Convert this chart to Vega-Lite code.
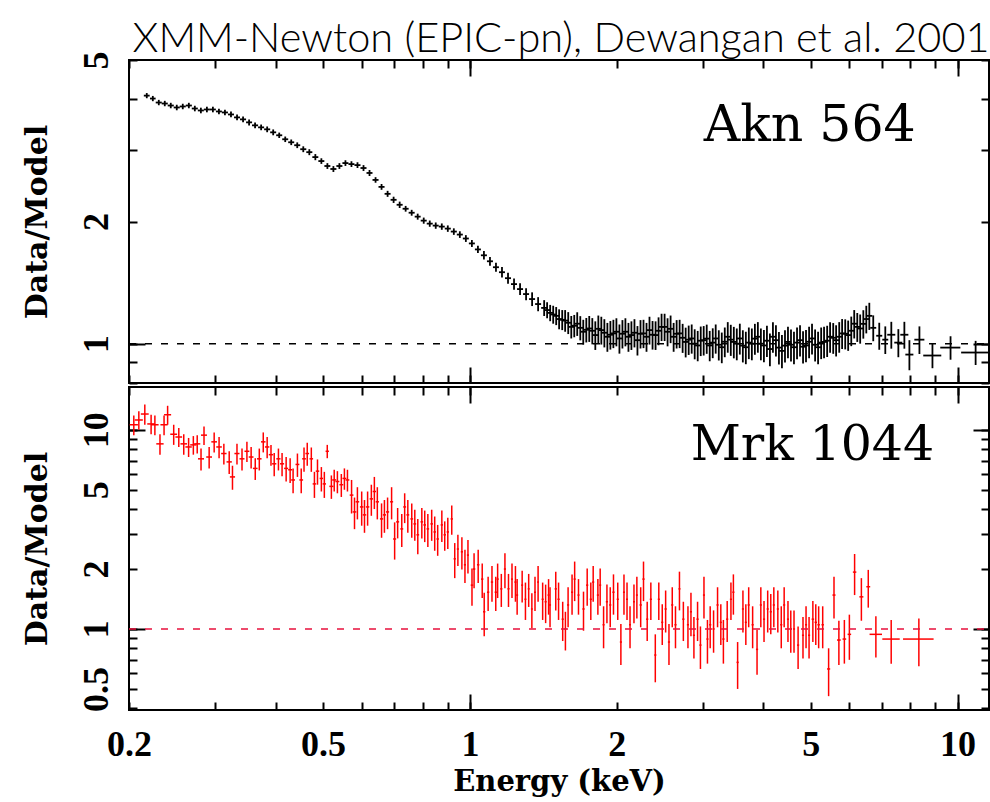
{
"$schema": "https://vega.github.io/schema/vega-lite/v6.json",
"background": "white",
"padding": {"left": 20, "top": 18, "right": 0, "bottom": 0},
"spacing": 0,
"title": {"text": "XMM-Newton (EPIC-pn), Dewangan et al. 2001", "font": "Lato", "fontWeight": 300, "fontSize": 41.5, "anchor": "middle", "baseline": "alphabetic", "offset": -43, "dx": 55, "color": "black"},
"config": {
 "view": {"stroke": "black", "strokeWidth": 2},
 "axis": {"domain": false, "grid": false, "tickColor": "black", "tickWidth": 2, "labelFont": "Liberation Serif", "labelFontWeight": "bold", "labelFontSize": 36, "labelColor": "black", "titleFont": "DejaVu Serif", "titleFontWeight": "bold", "titleColor": "black"}
},
"datasets": {
 "akn": [
{"e":0.2175,"de":0.003,"r":4.085,"dr":0.06},{"e":0.2238,"de":0.003,"r":4.018,"dr":0.06},{"e":0.2302,"de":0.0033,"r":3.928,"dr":0.06},{"e":0.2368,"de":0.0034,"r":3.906,"dr":0.06},{"e":0.2436,"de":0.0035,"r":3.862,"dr":0.06},{"e":0.2506,"de":0.0036,"r":3.819,"dr":0.06},{"e":0.2578,"de":0.0037,"r":3.841,"dr":0.06},{"e":0.2653,"de":0.0038,"r":3.862,"dr":0.06},{"e":0.2729,"de":0.0039,"r":3.797,"dr":0.06},{"e":0.2808,"de":0.004,"r":3.755,"dr":0.06},{"e":0.2889,"de":0.0041,"r":3.776,"dr":0.06},{"e":0.2972,"de":0.0042,"r":3.776,"dr":0.06},{"e":0.3058,"de":0.0043,"r":3.734,"dr":0.06},{"e":0.3146,"de":0.0045,"r":3.713,"dr":0.06},{"e":0.3237,"de":0.0046,"r":3.671,"dr":0.06},{"e":0.3331,"de":0.0047,"r":3.61,"dr":0.06},{"e":0.3427,"de":0.0049,"r":3.57,"dr":0.06},{"e":0.3526,"de":0.005,"r":3.51,"dr":0.06},{"e":0.3627,"de":0.0052,"r":3.451,"dr":0.055},{"e":0.3732,"de":0.0053,"r":3.412,"dr":0.055},{"e":0.384,"de":0.0055,"r":3.374,"dr":0.055},{"e":0.3951,"de":0.0056,"r":3.317,"dr":0.055},{"e":0.4065,"de":0.0058,"r":3.262,"dr":0.05},{"e":0.4182,"de":0.0059,"r":3.189,"dr":0.05},{"e":0.4302,"de":0.0061,"r":3.135,"dr":0.05},{"e":0.4426,"de":0.0063,"r":3.083,"dr":0.05},{"e":0.4554,"de":0.0065,"r":3.014,"dr":0.05},{"e":0.4686,"de":0.0067,"r":2.964,"dr":0.05},{"e":0.4821,"de":0.0068,"r":2.882,"dr":0.05},{"e":0.496,"de":0.007,"r":2.818,"dr":0.045},{"e":0.5103,"de":0.0072,"r":2.74,"dr":0.045},{"e":0.525,"de":0.0075,"r":2.694,"dr":0.045},{"e":0.5401,"de":0.0077,"r":2.74,"dr":0.045},{"e":0.5557,"de":0.0079,"r":2.786,"dr":0.045},{"e":0.5717,"de":0.0081,"r":2.77,"dr":0.045},{"e":0.5882,"de":0.0084,"r":2.754,"dr":0.045},{"e":0.6052,"de":0.0086,"r":2.709,"dr":0.045},{"e":0.6226,"de":0.0088,"r":2.634,"dr":0.045},{"e":0.6406,"de":0.0091,"r":2.532,"dr":0.04},{"e":0.659,"de":0.0094,"r":2.434,"dr":0.04},{"e":0.6781,"de":0.0096,"r":2.34,"dr":0.04},{"e":0.6976,"de":0.0099,"r":2.262,"dr":0.04},{"e":0.7178,"de":0.0102,"r":2.199,"dr":0.04},{"e":0.7384,"de":0.0105,"r":2.15,"dr":0.035},{"e":0.7597,"de":0.0108,"r":2.102,"dr":0.035},{"e":0.7816,"de":0.011,"r":2.056,"dr":0.035},{"e":0.8042,"de":0.0114,"r":2.01,"dr":0.035},{"e":0.8274,"de":0.0117,"r":1.976,"dr":0.035},{"e":0.8511,"de":0.012,"r":1.954,"dr":0.035},{"e":0.8758,"de":0.0124,"r":1.943,"dr":0.035},{"e":0.901,"de":0.0128,"r":1.921,"dr":0.035},{"e":0.927,"de":0.0132,"r":1.889,"dr":0.035},{"e":0.9537,"de":0.0135,"r":1.857,"dr":0.035},{"e":0.9812,"de":0.0139,"r":1.816,"dr":0.035},{"e":1.0095,"de":0.0143,"r":1.766,"dr":0.035},{"e":1.0387,"de":0.0147,"r":1.707,"dr":0.035},{"e":1.0686,"de":0.0152,"r":1.651,"dr":0.04},{"e":1.0995,"de":0.0156,"r":1.596,"dr":0.04},{"e":1.1311,"de":0.016,"r":1.543,"dr":0.04},{"e":1.1637,"de":0.0165,"r":1.5,"dr":0.045},{"e":1.1973,"de":0.017,"r":1.45,"dr":0.045},{"e":1.2318,"de":0.0175,"r":1.402,"dr":0.045},{"e":1.2674,"de":0.018,"r":1.363,"dr":0.045},{"e":1.3039,"de":0.0185,"r":1.325,"dr":0.045},{"e":1.3415,"de":0.019,"r":1.288,"dr":0.05},{"e":1.3802,"de":0.0196,"r":1.252,"dr":0.05},{"e":1.4201,"de":0.02,"r":1.225,"dr":0.055},{"e":1.461,"de":0.021,"r":1.191,"dr":0.055},{"e":1.5031,"de":0.021,"r":1.171,"dr":0.06},{"e":1.5465,"de":0.022,"r":1.145,"dr":0.065},{"e":1.591,"de":0.023,"r":1.126,"dr":0.07},{"e":1.6369,"de":0.023,"r":1.107,"dr":0.07},{"e":1.6842,"de":0.024,"r":1.094,"dr":0.075},{"e":1.7327,"de":0.025,"r":1.082,"dr":0.075},{"e":1.7826,"de":0.025,"r":1.076,"dr":0.08},{"e":1.834,"de":0.026,"r":1.088,"dr":0.085},{"e":1.8869,"de":0.027,"r":1.064,"dr":0.085},{"e":1.9414,"de":0.028,"r":1.052,"dr":0.085},{"e":1.9973,"de":0.028,"r":1.07,"dr":0.085},{"e":2.055,"de":0.029,"r":1.058,"dr":0.085},{"e":2.1142,"de":0.03,"r":1.04,"dr":0.085},{"e":2.175,"de":0.031,"r":1.064,"dr":0.085},{"e":2.238,"de":0.032,"r":1.058,"dr":0.085},{"e":2.3024,"de":0.033,"r":1.04,"dr":0.085},{"e":2.369,"de":0.034,"r":1.052,"dr":0.085},{"e":2.4372,"de":0.035,"r":1.076,"dr":0.085},{"e":2.5076,"de":0.036,"r":1.1,"dr":0.085},{"e":2.5797,"de":0.037,"r":1.088,"dr":0.085},{"e":2.6543,"de":0.038,"r":1.058,"dr":0.085},{"e":2.7306,"de":0.039,"r":1.034,"dr":0.085},{"e":2.8097,"de":0.04,"r":1.023,"dr":0.085},{"e":2.8906,"de":0.041,"r":1.0,"dr":0.085},{"e":2.9742,"de":0.042,"r":1.017,"dr":0.085},{"e":3.0596,"de":0.043,"r":1.029,"dr":0.085},{"e":3.1477,"de":0.045,"r":1.006,"dr":0.085},{"e":3.2388,"de":0.046,"r":0.994,"dr":0.085},{"e":3.3318,"de":0.047,"r":1.011,"dr":0.085},{"e":3.4277,"de":0.049,"r":1.023,"dr":0.09},{"e":3.5262,"de":0.05,"r":1.0,"dr":0.09},{"e":3.6283,"de":0.052,"r":0.989,"dr":0.09},{"e":3.7325,"de":0.053,"r":1.006,"dr":0.09},{"e":3.8406,"de":0.055,"r":1.029,"dr":0.09},{"e":3.951,"de":0.056,"r":1.0,"dr":0.09},{"e":4.0654,"de":0.058,"r":1.017,"dr":0.09},{"e":4.1822,"de":0.059,"r":1.04,"dr":0.09},{"e":4.3025,"de":0.061,"r":0.978,"dr":0.09},{"e":4.4272,"de":0.063,"r":0.989,"dr":0.09},{"e":4.5545,"de":0.065,"r":0.994,"dr":0.09},{"e":4.6864,"de":0.067,"r":1.006,"dr":0.09},{"e":4.8213,"de":0.068,"r":0.983,"dr":0.09},{"e":4.9609,"de":0.07,"r":1.011,"dr":0.09},{"e":5.1036,"de":0.072,"r":0.994,"dr":0.09},{"e":5.2517,"de":0.075,"r":1.006,"dr":0.09},{"e":5.4027,"de":0.077,"r":1.017,"dr":0.09},{"e":5.5594,"de":0.079,"r":1.034,"dr":0.09},{"e":5.7195,"de":0.081,"r":1.04,"dr":0.09},{"e":5.8837,"de":0.084,"r":1.058,"dr":0.09},{"e":6.0539,"de":0.086,"r":1.076,"dr":0.09},{"e":6.228,"de":0.088,"r":1.1,"dr":0.09},{"e":6.4083,"de":0.091,"r":1.119,"dr":0.09},{"e":6.5924,"de":0.094,"r":1.171,"dr":0.09},{"e":6.716,"de":0.095,"r":1.094,"dr":0.08},{"e":6.909,"de":0.098,"r":1.046,"dr":0.08},{"e":7.109,"de":0.1,"r":1.023,"dr":0.08},{"e":7.314,"de":0.139,"r":1.052,"dr":0.08},{"e":7.561,"de":0.144,"r":1.006,"dr":0.08},{"e":7.779,"de":0.148,"r":1.052,"dr":0.08},{"e":7.966,"de":0.151,"r":0.94,"dr":0.08},{"e":8.352,"de":0.198,"r":1.023,"dr":0.08},{"e":8.882,"de":0.378,"r":0.935,"dr":0.065},{"e":9.674,"de":0.459,"r":0.978,"dr":0.065},{"e":10.89,"de":0.72,"r":0.951,"dr":0.065},
{"e":1.44,"de":0.02,"r":1.21,"dr":0.055},{"e":1.482,"de":0.021,"r":1.18,"dr":0.06},{"e":1.524,"de":0.022,"r":1.15,"dr":0.065},{"e":1.568,"de":0.022,"r":1.14,"dr":0.07},{"e":1.614,"de":0.023,"r":1.1,"dr":0.07},{"e":1.66,"de":0.024,"r":1.12,"dr":0.075},{"e":1.708,"de":0.024,"r":1.07,"dr":0.075},{"e":1.757,"de":0.025,"r":1.09,"dr":0.08},{"e":1.808,"de":0.026,"r":1.05,"dr":0.085},{"e":1.86,"de":0.026,"r":1.08,"dr":0.085},{"e":1.914,"de":0.027,"r":1.04,"dr":0.085},{"e":1.969,"de":0.028,"r":1.06,"dr":0.085},{"e":2.026,"de":0.029,"r":1.03,"dr":0.085},{"e":2.084,"de":0.03,"r":1.07,"dr":0.085},{"e":2.144,"de":0.03,"r":1.05,"dr":0.085},{"e":2.206,"de":0.031,"r":1.02,"dr":0.085},{"e":2.27,"de":0.032,"r":1.06,"dr":0.085},{"e":2.335,"de":0.033,"r":1.08,"dr":0.085},{"e":2.403,"de":0.034,"r":1.05,"dr":0.085},{"e":2.472,"de":0.035,"r":1.1,"dr":0.085},{"e":2.543,"de":0.036,"r":1.07,"dr":0.085},{"e":2.617,"de":0.037,"r":1.04,"dr":0.085},{"e":2.692,"de":0.038,"r":1.06,"dr":0.085},{"e":2.77,"de":0.039,"r":1.01,"dr":0.085},{"e":2.85,"de":0.04,"r":1.03,"dr":0.085},{"e":2.932,"de":0.042,"r":0.99,"dr":0.085},{"e":3.016,"de":0.043,"r":1.02,"dr":0.085},{"e":3.103,"de":0.044,"r":0.99,"dr":0.085},{"e":3.192,"de":0.045,"r":1.03,"dr":0.085},{"e":3.285,"de":0.047,"r":0.98,"dr":0.085},{"e":3.379,"de":0.048,"r":1.04,"dr":0.09},{"e":3.477,"de":0.049,"r":1.01,"dr":0.09},{"e":3.577,"de":0.051,"r":1.03,"dr":0.09},{"e":3.68,"de":0.052,"r":0.98,"dr":0.09},{"e":3.786,"de":0.054,"r":1.0,"dr":0.09},{"e":3.895,"de":0.055,"r":1.04,"dr":0.09},{"e":4.008,"de":0.057,"r":0.99,"dr":0.09},{"e":4.123,"de":0.059,"r":0.97,"dr":0.09},{"e":4.242,"de":0.06,"r":1.02,"dr":0.09},{"e":4.364,"de":0.062,"r":0.96,"dr":0.09},{"e":4.49,"de":0.064,"r":1.01,"dr":0.09},{"e":4.619,"de":0.066,"r":0.98,"dr":0.09},{"e":4.753,"de":0.067,"r":1.02,"dr":0.09},{"e":4.889,"de":0.069,"r":0.99,"dr":0.09},{"e":5.03,"de":0.071,"r":1.03,"dr":0.09},{"e":5.176,"de":0.073,"r":0.98,"dr":0.09},{"e":5.324,"de":0.076,"r":1.01,"dr":0.09},{"e":5.478,"de":0.078,"r":1.04,"dr":0.09},{"e":5.636,"de":0.08,"r":1.02,"dr":0.09},{"e":5.798,"de":0.082,"r":1.06,"dr":0.09},{"e":5.966,"de":0.085,"r":1.05,"dr":0.09},{"e":6.139,"de":0.087,"r":1.12,"dr":0.09},{"e":6.314,"de":0.09,"r":1.09,"dr":0.09},{"e":6.499,"de":0.092,"r":1.15,"dr":0.09}
 ],
 "mrk": [
{"e":0.2046,"de":0.004,"r":10.6,"dr":1.2},{"e":0.2095,"de":0.004,"r":11.2,"dr":1.2},{"e":0.2155,"de":0.004,"r":12.0,"dr":1.4},{"e":0.222,"de":0.004,"r":10.7,"dr":1.2},{"e":0.226,"de":0.004,"r":10.6,"dr":1.2},{"e":0.2315,"de":0.004,"r":8.5,"dr":1.0},{"e":0.236,"de":0.004,"r":10.6,"dr":1.2},{"e":0.24,"de":0.004,"r":11.9,"dr":1.3},{"e":0.247,"de":0.004,"r":9.5,"dr":1.1},{"e":0.253,"de":0.004,"r":9.2,"dr":1.0},{"e":0.259,"de":0.004,"r":8.5,"dr":1.0},{"e":0.265,"de":0.004,"r":8.2,"dr":0.9},{"e":0.271,"de":0.004,"r":8.4,"dr":0.9},{"e":0.276,"de":0.004,"r":8.5,"dr":0.9},{"e":0.281,"de":0.004,"r":7.15,"dr":0.9},{"e":0.285,"de":0.004,"r":9.4,"dr":1.0},{"e":0.292,"de":0.004,"r":7.3,"dr":0.9},{"e":0.299,"de":0.004,"r":8.7,"dr":1.0},{"e":0.306,"de":0.004,"r":8.2,"dr":1.0},{"e":0.313,"de":0.004,"r":7.6,"dr":0.9},{"e":0.321,"de":0.004,"r":6.9,"dr":0.9},{"e":0.326,"de":0.004,"r":5.8,"dr":0.8},{"e":0.333,"de":0.004,"r":7.6,"dr":0.9},{"e":0.341,"de":0.004,"r":7.15,"dr":0.9},{"e":0.349,"de":0.004,"r":7.8,"dr":0.9},{"e":0.356,"de":0.004,"r":7.3,"dr":0.9},{"e":0.363,"de":0.004,"r":6.4,"dr":0.8},{"e":0.37,"de":0.004,"r":7.15,"dr":0.9},{"e":0.377,"de":0.004,"r":8.7,"dr":1.0},{"e":0.384,"de":0.004,"r":8.2,"dr":1.0},{"e":0.391,"de":0.004,"r":7.5,"dr":0.9},{"e":0.397,"de":0.004,"r":6.75,"dr":0.9},{"e":0.405,"de":0.004,"r":7.15,"dr":0.9},{"e":0.412,"de":0.004,"r":6.75,"dr":0.9},{"e":0.42,"de":0.004,"r":6.4,"dr":0.9},{"e":0.428,"de":0.004,"r":6.3,"dr":0.9},{"e":0.434,"de":0.004,"r":5.6,"dr":0.8},{"e":0.443,"de":0.004,"r":6.7,"dr":0.9},{"e":0.451,"de":0.004,"r":5.6,"dr":0.8},{"e":0.457,"de":0.004,"r":7.15,"dr":1.0},{"e":0.464,"de":0.004,"r":7.6,"dr":1.0},{"e":0.473,"de":0.004,"r":7.15,"dr":1.0},{"e":0.48,"de":0.004,"r":5.35,"dr":0.8},{"e":0.487,"de":0.004,"r":6.2,"dr":0.9},{"e":0.496,"de":0.004,"r":5.7,"dr":0.8},{"e":0.503,"de":0.004,"r":5.35,"dr":0.8},{"e":0.51,"de":0.004,"r":7.8,"dr":0.6},{"e":0.52,"de":0.005,"r":5.2,"dr":0.7},{"e":0.527,"de":0.005,"r":5.6,"dr":0.7},{"e":0.535,"de":0.005,"r":5.5,"dr":0.7},{"e":0.545,"de":0.005,"r":5.3,"dr":0.7},{"e":0.553,"de":0.005,"r":5.7,"dr":0.7},{"e":0.561,"de":0.005,"r":5.6,"dr":0.7},{"e":0.572,"de":0.005,"r":4.7,"dr":0.9},{"e":0.58,"de":0.005,"r":3.87,"dr":0.7},{"e":0.588,"de":0.005,"r":4.35,"dr":0.8},{"e":0.6,"de":0.005,"r":4.1,"dr":0.8},{"e":0.608,"de":0.005,"r":3.74,"dr":0.7},{"e":0.617,"de":0.005,"r":4.1,"dr":0.8},{"e":0.628,"de":0.005,"r":4.5,"dr":0.8},{"e":0.637,"de":0.005,"r":4.9,"dr":0.9},{"e":0.646,"de":0.005,"r":4.35,"dr":0.8},{"e":0.659,"de":0.005,"r":3.57,"dr":0.7},{"e":0.668,"de":0.005,"r":3.74,"dr":0.7},{"e":0.678,"de":0.005,"r":3.87,"dr":0.7},{"e":0.691,"de":0.005,"r":4.35,"dr":0.8},{"e":0.701,"de":0.005,"r":2.83,"dr":0.6},{"e":0.711,"de":0.005,"r":3.45,"dr":0.6},{"e":0.725,"de":0.005,"r":3.18,"dr":0.6},{"e":0.735,"de":0.005,"r":4.1,"dr":0.7},{"e":0.746,"de":0.005,"r":3.74,"dr":0.7},{"e":0.76,"de":0.005,"r":3.57,"dr":0.7},{"e":0.771,"de":0.005,"r":3.37,"dr":0.6},{"e":0.782,"de":0.005,"r":2.97,"dr":0.6},{"e":0.797,"de":0.005,"r":3.45,"dr":0.6},{"e":0.808,"de":0.005,"r":3.33,"dr":0.6},{"e":0.82,"de":0.005,"r":3.18,"dr":0.6},{"e":0.835,"de":0.005,"r":3.37,"dr":0.6},{"e":0.847,"de":0.005,"r":3.07,"dr":0.6},{"e":0.859,"de":0.005,"r":2.83,"dr":0.5},{"e":0.876,"de":0.005,"r":3.33,"dr":0.6},{"e":0.888,"de":0.005,"r":2.97,"dr":0.5},{"e":0.901,"de":0.005,"r":3.07,"dr":0.55},{"e":0.918,"de":0.005,"r":3.57,"dr":0.6},{"e":0.931,"de":0.005,"r":2.25,"dr":0.45},{"e":0.945,"de":0.005,"r":2.52,"dr":0.45},{"e":0.963,"de":0.005,"r":2.44,"dr":0.45},{"e":0.977,"de":0.005,"r":2.1,"dr":0.4},{"e":0.991,"de":0.005,"r":2.35,"dr":0.45},{"e":1.01,"de":0.006,"r":1.66,"dr":0.35},{"e":1.02,"de":0.006,"r":2.0,"dr":0.4},{"e":1.04,"de":0.006,"r":2.1,"dr":0.4},{"e":1.06,"de":0.006,"r":1.78,"dr":0.35},{"e":1.07,"de":0.006,"r":1.22,"dr":0.3},{"e":1.09,"de":0.006,"r":1.53,"dr":0.3},{"e":1.11,"de":0.006,"r":1.72,"dr":0.35},{"e":1.13,"de":0.006,"r":1.53,"dr":0.3},{"e":1.14,"de":0.006,"r":1.78,"dr":0.35},{"e":1.16,"de":0.006,"r":1.59,"dr":0.3},{"e":1.18,"de":0.006,"r":2.0,"dr":0.4},{"e":1.2,"de":0.006,"r":1.59,"dr":0.3},{"e":1.22,"de":0.006,"r":1.78,"dr":0.35},{"e":1.24,"de":0.006,"r":1.72,"dr":0.35},{"e":1.25,"de":0.006,"r":1.48,"dr":0.3},{"e":1.28,"de":0.006,"r":1.66,"dr":0.3},{"e":1.3,"de":0.006,"r":1.41,"dr":0.3},{"e":1.32,"de":0.006,"r":1.59,"dr":0.3},{"e":1.34,"de":0.006,"r":1.26,"dr":0.25},{"e":1.36,"de":0.006,"r":1.53,"dr":0.3},{"e":1.38,"de":0.006,"r":1.72,"dr":0.35},{"e":1.41,"de":0.007,"r":1.41,"dr":0.3},{"e":1.43,"de":0.007,"r":1.37,"dr":0.3},{"e":1.45,"de":0.007,"r":1.48,"dr":0.3},{"e":1.46,"de":0.007,"r":1.32,"dr":0.3},{"e":1.5,"de":0.008,"r":1.59,"dr":0.35},{"e":1.52,"de":0.008,"r":1.41,"dr":0.3},{"e":1.55,"de":0.008,"r":1.12,"dr":0.25},{"e":1.57,"de":0.008,"r":1.0,"dr":0.22},{"e":1.59,"de":0.008,"r":1.32,"dr":0.3},{"e":1.62,"de":0.008,"r":1.53,"dr":0.35},{"e":1.64,"de":0.008,"r":1.78,"dr":0.4},{"e":1.67,"de":0.008,"r":1.48,"dr":0.3},{"e":1.71,"de":0.009,"r":1.26,"dr":0.28},{"e":1.74,"de":0.009,"r":1.66,"dr":0.35},{"e":1.77,"de":0.009,"r":1.41,"dr":0.3},{"e":1.79,"de":0.009,"r":1.72,"dr":0.35},{"e":1.83,"de":0.009,"r":1.48,"dr":0.3},{"e":1.85,"de":0.009,"r":1.66,"dr":0.35},{"e":1.88,"de":0.009,"r":1.05,"dr":0.25},{"e":1.91,"de":0.01,"r":1.37,"dr":0.3},{"e":1.94,"de":0.01,"r":1.32,"dr":0.3},{"e":1.97,"de":0.01,"r":1.53,"dr":0.35},{"e":2.01,"de":0.01,"r":1.41,"dr":0.3},{"e":2.04,"de":0.01,"r":0.86,"dr":0.2},{"e":2.07,"de":0.01,"r":1.53,"dr":0.35},{"e":2.1,"de":0.01,"r":1.41,"dr":0.3},{"e":2.13,"de":0.01,"r":1.05,"dr":0.25},{"e":2.17,"de":0.01,"r":1.37,"dr":0.3},{"e":2.2,"de":0.01,"r":1.48,"dr":0.35},{"e":2.24,"de":0.012,"r":1.32,"dr":0.3},{"e":2.27,"de":0.012,"r":1.78,"dr":0.4},{"e":2.31,"de":0.012,"r":1.12,"dr":0.25},{"e":2.35,"de":0.012,"r":1.41,"dr":0.3},{"e":2.4,"de":0.012,"r":0.74,"dr":0.2},{"e":2.44,"de":0.012,"r":1.41,"dr":0.3},{"e":2.48,"de":0.012,"r":1.08,"dr":0.25},{"e":2.52,"de":0.013,"r":1.26,"dr":0.3},{"e":2.56,"de":0.013,"r":0.86,"dr":0.2},{"e":2.6,"de":0.013,"r":1.32,"dr":0.3},{"e":2.64,"de":0.013,"r":1.05,"dr":0.25},{"e":2.69,"de":0.013,"r":1.59,"dr":0.35},{"e":2.74,"de":0.014,"r":1.12,"dr":0.25},{"e":2.8,"de":0.014,"r":1.05,"dr":0.25},{"e":2.84,"de":0.014,"r":1.22,"dr":0.3},{"e":2.88,"de":0.014,"r":0.93,"dr":0.22},{"e":2.93,"de":0.015,"r":1.12,"dr":0.25},{"e":2.97,"de":0.015,"r":0.83,"dr":0.2},{"e":3.02,"de":0.015,"r":1.48,"dr":0.35},{"e":3.07,"de":0.015,"r":0.89,"dr":0.22},{"e":3.11,"de":0.016,"r":1.05,"dr":0.25},{"e":3.16,"de":0.016,"r":1.0,"dr":0.24},{"e":3.22,"de":0.016,"r":1.32,"dr":0.3},{"e":3.27,"de":0.016,"r":1.08,"dr":0.25},{"e":3.31,"de":0.017,"r":0.89,"dr":0.22},{"e":3.37,"de":0.017,"r":1.12,"dr":0.26},{"e":3.43,"de":0.017,"r":1.41,"dr":0.3},{"e":3.47,"de":0.017,"r":1.53,"dr":0.35},{"e":3.54,"de":0.018,"r":0.68,"dr":0.18},{"e":3.63,"de":0.018,"r":1.26,"dr":0.3},{"e":3.68,"de":0.018,"r":1.08,"dr":0.25},{"e":3.73,"de":0.019,"r":1.32,"dr":0.3},{"e":3.8,"de":0.019,"r":1.05,"dr":0.25},{"e":3.88,"de":0.02,"r":0.79,"dr":0.2},{"e":3.95,"de":0.02,"r":1.32,"dr":0.3},{"e":4.01,"de":0.02,"r":1.12,"dr":0.26},{"e":4.08,"de":0.02,"r":1.26,"dr":0.3},{"e":4.14,"de":0.021,"r":1.22,"dr":0.28},{"e":4.2,"de":0.021,"r":1.32,"dr":0.3},{"e":4.28,"de":0.021,"r":1.26,"dr":0.3},{"e":4.35,"de":0.022,"r":1.05,"dr":0.25},{"e":4.41,"de":0.022,"r":1.32,"dr":0.3},{"e":4.49,"de":0.022,"r":1.12,"dr":0.26},{"e":4.55,"de":0.023,"r":1.0,"dr":0.24},{"e":4.62,"de":0.023,"r":1.0,"dr":0.24},{"e":4.71,"de":0.024,"r":0.83,"dr":0.2},{"e":4.82,"de":0.024,"r":0.93,"dr":0.22},{"e":4.89,"de":0.024,"r":1.05,"dr":0.25},{"e":4.96,"de":0.025,"r":0.93,"dr":0.22},{"e":5.05,"de":0.03,"r":1.12,"dr":0.26},{"e":5.12,"de":0.03,"r":1.08,"dr":0.25},{"e":5.19,"de":0.03,"r":1.05,"dr":0.25},{"e":5.29,"de":0.03,"r":1.05,"dr":0.25},{"e":5.44,"de":0.04,"r":0.63,"dr":0.17},{"e":5.58,"de":0.04,"r":1.48,"dr":0.35},{"e":5.71,"de":0.05,"r":0.88,"dr":0.22},{"e":5.86,"de":0.05,"r":0.89,"dr":0.22},{"e":6.0,"de":0.05,"r":0.94,"dr":0.24},{"e":6.15,"de":0.05,"r":1.93,"dr":0.45},{"e":6.35,"de":0.06,"r":1.45,"dr":0.35},{"e":6.56,"de":0.06,"r":1.63,"dr":0.35},{"e":6.8,"de":0.2,"r":0.94,"dr":0.22},{"e":7.31,"de":0.3,"r":0.89,"dr":0.22},{"e":8.33,"de":0.6,"r":0.89,"dr":0.24}
 ],
 "unity": [{"r": 1, "e0": 0.2, "e1": 11.6}]
},
"vconcat": [
 {
  "width": 860, "height": 323,
  "resolve": {"axis": {"x": "independent", "y": "independent"}},
  "layer": [
   {"data": {"name": "akn"},
    "mark": {"type": "errorbar", "color": "black", "thickness": 1.8},
    "encoding": {
     "x": {"field": "e", "type": "quantitative", "scale": {"type": "log", "domain": [0.2, 11.6], "nice": false}, "axis": {"orient": "bottom", "values": [0.2,0.3,0.4,0.5,0.6,0.7,0.8,0.9,1,2,3,4,5,6,7,8,9,10], "tickSize": -8, "labels": false, "title": null}},
     "y": {"field": "r", "type": "quantitative", "scale": {"type": "log", "domain": [0.8, 5], "nice": false}, "axis": {"orient": "left", "values": [0.8,0.9,1,2,3,4,5], "tickSize": -8, "labelAngle": -90, "labelAlign": "center", "labelBaseline": "alphabetic", "labelExpr": "(datum.value==1||datum.value==2||datum.value==5)?format(datum.value,'~g'):''", "labelPadding": 30, "labelOverlap": false, "labelFlush": false, "title": "Data/Model", "titleFontSize": 30, "titlePadding": 26}},
     "yError": {"field": "dr"}
    }},
   {"data": {"name": "akn"},
    "mark": {"type": "errorbar", "color": "black", "thickness": 1.8},
    "encoding": {
     "x": {"field": "e", "type": "quantitative", "scale": {"type": "log", "domain": [0.2, 11.6], "nice": false}, "axis": {"orient": "top", "values": [0.2,0.3,0.4,0.5,0.6,0.7,0.8,0.9,1,2,3,4,5,6,7,8,9,10], "tickSize": -8, "labels": false, "title": null}},
     "xError": {"field": "de"},
     "y": {"field": "r", "type": "quantitative", "scale": {"type": "log", "domain": [0.8, 5], "nice": false}, "axis": {"orient": "right", "values": [0.8,0.9,1,2,3,4,5], "tickSize": -8, "labels": false, "title": null}}
    }},
   {"data": {"values": [{"label": "Akn 564"}]},
    "mark": {"type": "text", "font": "DejaVu Serif", "fontSize": 50.5, "align": "left", "baseline": "alphabetic", "color": "black"},
    "encoding": {
     "x": {"datum": 3.016, "type": "quantitative", "scale": {"type": "log", "domain": [0.2, 11.6], "nice": false}, "axis": {"orient": "bottom", "values": [1, 10], "tickSize": -16, "labels": false, "title": null}},
     "y": {"datum": 3.154, "type": "quantitative", "scale": {"type": "log", "domain": [0.8, 5], "nice": false}, "axis": {"orient": "left", "values": [1], "tickSize": -16, "labels": false, "title": null}},
     "text": {"field": "label"}
    }},
   {"data": {"name": "unity"},
    "mark": {"type": "rule", "color": "black", "strokeWidth": 1.5, "strokeDash": [7, 9]},
    "encoding": {
     "x": {"field": "e0", "type": "quantitative", "scale": {"type": "log", "domain": [0.2, 11.6], "nice": false}, "axis": {"orient": "top", "values": [1, 10], "tickSize": -16, "labels": false, "title": null}},
     "x2": {"field": "e1"},
     "y": {"field": "r", "type": "quantitative", "scale": {"type": "log", "domain": [0.8, 5], "nice": false}, "axis": {"orient": "right", "values": [1], "tickSize": -16, "labels": false, "title": null}}
    }}
  ]
 },
 {
  "width": 860, "height": 323,
  "resolve": {"axis": {"x": "independent", "y": "independent"}},
  "layer": [
   {"data": {"name": "mrk"},
    "mark": {"type": "errorbar", "color": "#ff0000", "thickness": 1.5},
    "encoding": {
     "x": {"field": "e", "type": "quantitative", "scale": {"type": "log", "domain": [0.2, 11.6], "nice": false}, "axis": {"orient": "bottom", "values": [0.2,0.3,0.4,0.5,0.6,0.7,0.8,0.9,1,2,3,4,5,6,7,8,9,10], "tickSize": -8, "labelExpr": "(datum.value==0.2||datum.value==0.5||datum.value==1||datum.value==2||datum.value==5||datum.value==10)?format(datum.value,'~g'):''", "labelPadding": 25, "labelFlush": false, "labelOverlap": false, "title": "Energy (keV)", "titleFontSize": 29, "titlePadding": 5}},
     "y": {"field": "r", "type": "quantitative", "scale": {"type": "log", "domain": [0.392, 16.4], "nice": false}, "axis": {"orient": "left", "values": [0.4,0.5,0.6,0.7,0.8,0.9,1,2,3,4,5,6,7,8,9,10], "tickSize": -8, "labelAngle": -90, "labelAlign": "center", "labelBaseline": "alphabetic", "labelExpr": "(datum.value==0.5||datum.value==1||datum.value==2||datum.value==5||datum.value==10)?format(datum.value,'~g'):''", "labelPadding": 30, "labelOverlap": false, "labelFlush": false, "title": "Data/Model", "titleFontSize": 30, "titlePadding": 26}},
     "yError": {"field": "dr"}
    }},
   {"data": {"name": "mrk"},
    "mark": {"type": "errorbar", "color": "#ff0000", "thickness": 1.5},
    "encoding": {
     "x": {"field": "e", "type": "quantitative", "scale": {"type": "log", "domain": [0.2, 11.6], "nice": false}, "axis": {"orient": "top", "values": [0.2,0.3,0.4,0.5,0.6,0.7,0.8,0.9,1,2,3,4,5,6,7,8,9,10], "tickSize": -8, "labels": false, "title": null}},
     "xError": {"field": "de"},
     "y": {"field": "r", "type": "quantitative", "scale": {"type": "log", "domain": [0.392, 16.4], "nice": false}, "axis": {"orient": "right", "values": [0.4,0.5,0.6,0.7,0.8,0.9,1,2,3,4,5,6,7,8,9,10], "tickSize": -8, "labels": false, "title": null}}
    }},
   {"data": {"values": [{"label": "Mrk 1044"}]},
    "mark": {"type": "text", "font": "DejaVu Serif", "fontSize": 49, "align": "left", "baseline": "alphabetic", "color": "black"},
    "encoding": {
     "x": {"datum": 2.836, "type": "quantitative", "scale": {"type": "log", "domain": [0.2, 11.6], "nice": false}, "axis": {"orient": "bottom", "values": [1, 10], "tickSize": -16, "labels": false, "title": null}},
     "y": {"datum": 7.07, "type": "quantitative", "scale": {"type": "log", "domain": [0.392, 16.4], "nice": false}, "axis": {"orient": "left", "values": [1, 10], "tickSize": -16, "labels": false, "title": null}},
     "text": {"field": "label"}
    }},
   {"data": {"name": "unity"},
    "mark": {"type": "rule", "color": "#e8103c", "strokeWidth": 1.5, "strokeDash": [7, 9]},
    "encoding": {
     "x": {"field": "e0", "type": "quantitative", "scale": {"type": "log", "domain": [0.2, 11.6], "nice": false}, "axis": {"orient": "top", "values": [1, 10], "tickSize": -16, "labels": false, "title": null}},
     "x2": {"field": "e1"},
     "y": {"field": "r", "type": "quantitative", "scale": {"type": "log", "domain": [0.392, 16.4], "nice": false}, "axis": {"orient": "right", "values": [1, 10], "tickSize": -16, "labels": false, "title": null}}
    }}
  ]
 }
]
}
